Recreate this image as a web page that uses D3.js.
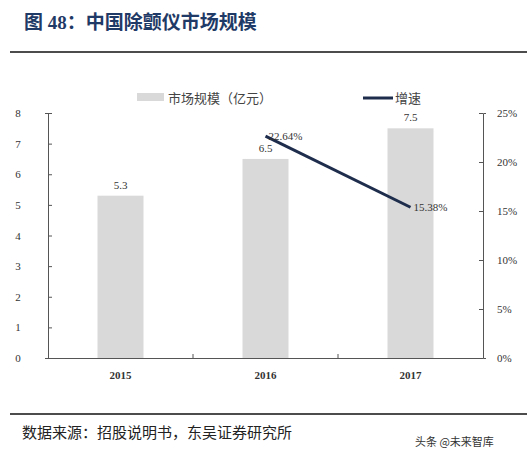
<!DOCTYPE html>
<html><head><meta charset="utf-8">
<script src="https://cdn.jsdelivr.net/npm/d3@7.9.0/dist/d3.min.js"></script>
<style>body{margin:0;background:#fff}svg{display:block}</style>
</head><body>
<svg id="chart" width="527" height="459"></svg>
<script>
const years = ['2015', '2016', '2017'];
const marketSize = [5.3, 6.5, 7.5];
const growthYears = ['2016', '2017'];
const growth = [22.64, 15.38];
const leftTicks = [0, 1, 2, 3, 4, 5, 6, 7, 8];
const rightTicks = [0, 5, 10, 15, 20, 25];

const svg = d3.select('#chart');
const serif = '"Liberation Serif", "Noto Sans CJK SC", serif';
const cjk = '"Noto Sans CJK SC", serif';

svg.append('text').attr('x', 24).attr('y', 29)
  .attr('font-family', '"Liberation Serif", "Noto Sans CJK SC"').attr('font-weight', 'bold')
  .attr('font-size', 19).attr('fill', '#1f3a66').text('图 48：中国除颤仪市场规模');
svg.append('line').attr('x1', 10).attr('x2', 527).attr('y1', 52).attr('y2', 52)
  .attr('stroke', '#111').attr('stroke-width', 1.5);

const pL = 48, pR = 483, pT = 113, pB = 358;
const x = d3.scaleBand().domain(years).range([pL, pR]);
const y = d3.scaleLinear().domain([0, 8]).range([pB, pT]);
const y2 = d3.scaleLinear().domain([0, 25]).range([pB, pT]);
const bw = 46;

svg.append('g').selectAll('rect').data(years).join('rect')
  .attr('x', (d) => x(d) + x.bandwidth() / 2 - bw / 2)
  .attr('y', (d, i) => y(marketSize[i]))
  .attr('width', bw)
  .attr('height', (d, i) => pB - y(marketSize[i]))
  .attr('fill', '#d9d9d9');

svg.append('g').selectAll('text').data(years).join('text')
  .attr('x', (d) => x(d) + x.bandwidth() / 2)
  .attr('y', (d, i) => y(marketSize[i]) - 7)
  .attr('text-anchor', 'middle').attr('font-family', serif).attr('font-size', 11).attr('fill', '#333')
  .text((d, i) => marketSize[i]);

// axes
const axisL = svg.append('g').attr('transform', `translate(${pL},0)`)
  .call(d3.axisLeft(y).tickValues(leftTicks).tickSize(3).tickFormat(d3.format('d')));
const axisR = svg.append('g').attr('transform', `translate(${pR},0)`)
  .call(d3.axisRight(y2).tickValues(rightTicks).tickSize(3).tickFormat((d) => d + '%'));
const axisB = svg.append('g').attr('transform', `translate(0,${pB})`)
  .call(d3.axisBottom(x).tickSize(0));
for (const g of [axisL, axisR, axisB]) {
  g.selectAll('path,line').attr('stroke', '#555');
  g.selectAll('text').attr('font-family', serif).attr('font-size', 11).attr('fill', '#333');
}
axisL.selectAll('.tick line').attr('x2', 4);
axisR.selectAll('.tick line').attr('x2', -4);
axisL.selectAll('text').attr('x', -30).attr('text-anchor', 'middle');
axisR.selectAll('text').attr('x', 14);
axisB.selectAll('text').attr('dy', '1.6em').attr('font-weight', 'bold');
svg.append('g').selectAll('line').data(years.slice(1)).join('line')
  .attr('x1', (d) => x(d)).attr('x2', (d) => x(d))
  .attr('y1', pB).attr('y2', pB - 4).attr('stroke', '#555');

// growth line
const line = d3.line().x((d, i) => x(growthYears[i]) + x.bandwidth() / 2).y((d) => y2(d));
svg.append('path').datum(growth).attr('d', line)
  .attr('fill', 'none').attr('stroke', '#1f2d4d').attr('stroke-width', 3);
svg.append('g').selectAll('text').data(growth).join('text')
  .attr('x', (d, i) => x(growthYears[i]) + x.bandwidth() / 2 + 3)
  .attr('y', (d) => y2(d) + 4)
  .attr('font-family', serif).attr('font-size', 11).attr('fill', '#333')
  .text((d) => d.toFixed(2) + '%');

// legend
svg.append('rect').attr('x', 137).attr('y', 93).attr('width', 27).attr('height', 8).attr('fill', '#d9d9d9');
svg.append('text').attr('x', 168).attr('y', 103).attr('font-family', cjk).attr('font-size', 13).attr('fill', '#444')
  .text('市场规模（亿元）');
svg.append('line').attr('x1', 363).attr('x2', 393).attr('y1', 98).attr('y2', 98)
  .attr('stroke', '#1f2d4d').attr('stroke-width', 3);
svg.append('text').attr('x', 395).attr('y', 103).attr('font-family', cjk).attr('font-size', 13).attr('fill', '#444')
  .text('增速');

// footer
svg.append('line').attr('x1', 10).attr('x2', 527).attr('y1', 414).attr('y2', 414)
  .attr('stroke', '#111').attr('stroke-width', 1.5);
svg.append('text').attr('x', 22).attr('y', 438).attr('font-family', cjk).attr('font-size', 15).attr('fill', '#222')
  .text('数据来源：招股说明书，东吴证券研究所');
svg.append('text').attr('x', 415).attr('y', 446).attr('font-family', '"Noto Sans CJK SC"').attr('font-size', 11).attr('fill', '#333')
  .text('头条 @未来智库');
</script>
</body></html>
